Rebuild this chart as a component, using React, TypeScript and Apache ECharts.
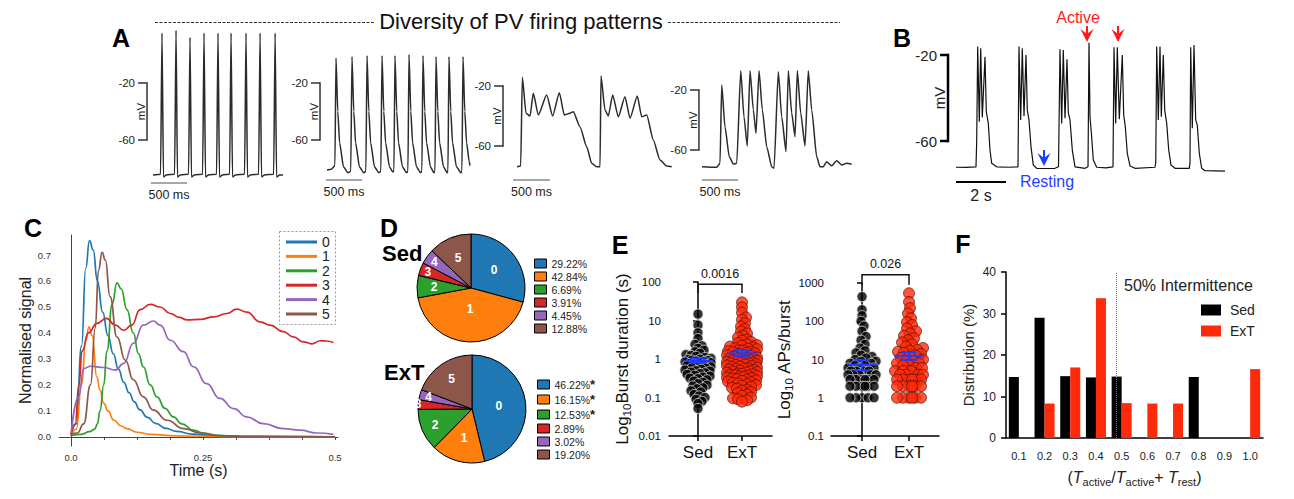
import React, { useEffect, useRef } from "react";
import * as echarts from "echarts";

const FONT = "'Liberation Sans', Arial, Helvetica, sans-serif";

// ---------- Panel A: example PV firing patterns, [time (ms), Vm (mV)] ----------
const traceFast = [
  [0, -84.5], [105, -84], [125, 15], [145, -86], [185, -84.5], [300, -84], [320, 17], [340, -86], [380, -84.5],
  [494, -84], [514, 12], [534, -86], [575, -84.5], [689, -84], [709, 15], [729, -86], [770, -84.5],
  [883, -84], [903, 15], [923, -86], [965, -84.5], [1064, -84], [1084, 15], [1104, -86], [1145, -84.5],
  [1272, -84], [1292, 15], [1312, -86], [1352, -84.5], [1467, -84], [1487, 15], [1507, -86], [1548, -84.5],
  [1676, -84], [1696, 15], [1716, -86], [1760, -84.5], [1806, -84.5],
];
const traceRegular = [
  [0, -81], [60, -80.5], [110, -78], [125, -2.5], [150, -40], [175, -62], [230, -79], [290, -83], [330, -82],
  [347, -1.5], [372, -40], [397, -62], [452, -79], [510, -83], [540, -82], [556, -0.8], [581, -40], [606, -62],
  [661, -79], [720, -83], [748, -82], [764, -0.8], [789, -40], [814, -62], [869, -79], [915, -82.5], [930, -81.5],
  [944, -0.8], [969, -40], [994, -62], [1049, -79], [1105, -83], [1124, -82], [1139, 0], [1164, -40], [1189, -62],
  [1244, -79], [1300, -83], [1318, -82], [1333, -0.8], [1358, -40], [1383, -62], [1438, -79], [1485, -83],
  [1500, -82], [1514, -1.5], [1539, -40], [1564, -62], [1619, -79], [1670, -83], [1680, -82], [1694, -1.5],
  [1719, -40], [1744, -62], [1799, -79], [1860, -83], [1874, -82], [1889, -1.5], [1914, -40], [1939, -62],
  [1975, -75], [1986, -78],
];
const tracePlateau = [
  [0, -73.8], [50, -73.3], [72, -14.2], [122, -38.2], [176, -40], [220, -24.9], [288, -39.3], [401, -26],
  [482, -40], [572, -24.5], [639, -39.3], [716, -38.2], [761, -37.1], [851, -47.1], [942, -60.5], [1009, -71.5],
  [1077, -73.8], [1122, -73.8], [1135, -13.3], [1189, -36], [1234, -40], [1293, -26], [1369, -40.5], [1459, -27.1],
  [1527, -41.5], [1626, -26.7], [1685, -40.5], [1753, -39.3], [1842, -56], [1932, -69.3], [2023, -73.3], [2091, -73.8],
];
const traceIrregular = [
  [0, -71.1], [204, -71.5], [250, -68.9], [274, -16.7], [319, -44.5], [379, -64.5], [435, -69.3], [482, -68.9],
  [538, -7.1], [583, -37.8], [629, -57.3], [667, -7.1], [713, -33.3], [750, -48.9], [792, -7.1], [838, -33.3],
  [899, -57.8], [968, -71.1], [1000, -72.2], [1060, -7.8], [1107, -37.8], [1167, -61.1], [1199, -7.1], [1246, -35.5],
  [1292, -51.1], [1324, -7.1], [1371, -35.5], [1431, -57.3], [1476, -7.1], [1524, -33.3], [1593, -64.5], [1639, -71.1],
  [1685, -71.1], [1731, -67.8], [1801, -70.5], [1871, -67.1], [1940, -70], [2010, -68.9], [2079, -69.5],
];

// ---------- Panel B: intermittent bursting, [time (s), Vm (mV)] ----------
const traceIntermittent = [
  [0, -72.2], [0.4, -72.3], [0.8, -72], [0.828, -60], [0.868, -16.1], [0.932, -51], [0.988, -16.9], [1.052, -49],
  [1.16, -20.8], [1.212, -46.4], [1.292, -51.8], [1.36, -64.2], [1.428, -70.4], [1.628, -72], [2.1, -72.2], [2.48, -72],
  [2.52, -16.1], [2.588, -50.2], [2.652, -16.9], [2.72, -48.4], [2.8, -20], [2.852, -45.6], [2.92, -50.2], [3.0, -62.7],
  [3.092, -71.2], [3.228, -72.7], [3.6, -72.8], [3.96, -72.7], [4.1, -72],
  [4.16, -17.3], [4.228, -51.8], [4.292, -17.7], [4.36, -49.4], [4.44, -22], [4.492, -46.8], [4.56, -50.2], [4.652, -64.2],
  [4.76, -72], [5.16, -72.7], [5.28, -72],
  [5.32, -14.3], [5.36, -48.7], [5.42, -57.2], [5.492, -68.8], [5.628, -72.2], [6.0, -72.5], [6.28, -72],
  [6.32, -16.4], [6.388, -51.8], [6.452, -16.4], [6.532, -49.9], [6.652, -20], [6.708, -47.9], [6.772, -53.3], [6.852, -65.7],
  [6.96, -71.6], [7.16, -72.7], [7.96, -72.2], [7.99, -70],
  [8.028, -16.1], [8.092, -50.2], [8.16, -16.1], [8.212, -48.7], [8.292, -20], [8.348, -45.6], [8.428, -51.8], [8.508, -64.2],
  [8.6, -71.2], [8.76, -72.7], [9.332, -72.7], [9.36, -70],
  [9.388, -16.4], [9.452, -54.1], [9.52, -15.3], [9.588, -50.2], [9.652, -52.6], [9.732, -65.7], [9.828, -72.7], [9.96, -73.8],
  [10.76, -74],
];

// ---------- Panel C: cluster mean waveforms, [time (s), normalised signal] ----------
const clusterNames = ["0", "1", "2", "3", "4", "5"];
const clusterColors = ["#1f77b4", "#ff7f0e", "#2ca02c", "#d62728", "#9467bd", "#8c564b"];
const wave0 = [[0, 0.01], [0.01, 0.05], [0.02, 0.35], [0.028, 0.65], [0.035, 0.755], [0.042, 0.72], [0.05, 0.6], [0.06, 0.48], [0.07, 0.39], [0.08, 0.32], [0.09, 0.26], [0.1, 0.21], [0.11, 0.17], [0.12, 0.135], [0.13, 0.105], [0.145, 0.075], [0.16, 0.052], [0.18, 0.033], [0.2, 0.021], [0.23, 0.011], [0.27, 0.005], [0.35, 0.001], [0.5, 0]];
const wave1 = [[0, 0.005], [0.01, 0.03], [0.02, 0.2], [0.028, 0.37], [0.034, 0.424], [0.04, 0.39], [0.049, 0.23], [0.055, 0.18], [0.062, 0.13], [0.07, 0.1], [0.081, 0.064], [0.095, 0.042], [0.106, 0.032], [0.125, 0.018], [0.15, 0.01], [0.2, 0.004], [0.3, 0.001], [0.5, 0]];
const wave2 = [[0, 0.005], [0.02, 0.01], [0.035, 0.02], [0.045, 0.03], [0.05, 0.05], [0.055, 0.1], [0.062, 0.2], [0.068, 0.33], [0.078, 0.51], [0.087, 0.593], [0.095, 0.57], [0.106, 0.49], [0.118, 0.4], [0.128, 0.32], [0.137, 0.27], [0.15, 0.2], [0.163, 0.154], [0.178, 0.11], [0.194, 0.077], [0.21, 0.05], [0.232, 0.026], [0.25, 0.015], [0.276, 0.006], [0.32, 0.002], [0.5, 0]];
const wave3 = [[0, 0.005], [0.008, 0.05], [0.015, 0.2], [0.021, 0.33], [0.033, 0.4], [0.049, 0.437], [0.067, 0.456], [0.084, 0.43], [0.1, 0.41], [0.115, 0.43], [0.131, 0.49], [0.15, 0.51], [0.169, 0.5], [0.188, 0.475], [0.205, 0.46], [0.22, 0.45], [0.245, 0.452], [0.27, 0.462], [0.295, 0.475], [0.314, 0.492], [0.333, 0.48], [0.358, 0.443], [0.377, 0.43], [0.402, 0.405], [0.421, 0.385], [0.44, 0.366], [0.456, 0.358], [0.472, 0.37], [0.484, 0.369], [0.497, 0.363]];
const wave4 = [[0, 0.01], [0.0145, 0.154], [0.024, 0.263], [0.037, 0.272], [0.062, 0.267], [0.084, 0.257], [0.1, 0.283], [0.118, 0.36], [0.137, 0.43], [0.156, 0.446], [0.169, 0.43], [0.188, 0.372], [0.213, 0.328], [0.232, 0.27], [0.257, 0.205], [0.282, 0.148], [0.308, 0.109], [0.333, 0.077], [0.364, 0.051], [0.402, 0.032], [0.434, 0.026], [0.465, 0.015], [0.497, 0.01]];
const wave5 = [[0, 0.01], [0.012, 0.015], [0.024, 0.05], [0.037, 0.2], [0.046, 0.42], [0.052, 0.64], [0.059, 0.71], [0.065, 0.68], [0.074, 0.54], [0.087, 0.385], [0.103, 0.295], [0.118, 0.22], [0.137, 0.154], [0.156, 0.103], [0.182, 0.064], [0.213, 0.032], [0.245, 0.015], [0.276, 0.005], [0.34, 0.001], [0.5, 0]];
const clusterWaves = [wave0, wave1, wave2, wave3, wave4, wave5];
const timeTicks = [0, 0.0625, 0.125, 0.1875, 0.25, 0.3125, 0.375, 0.4375, 0.5];
const timeLabels = { 0: "0.0", 0.25: "0.25", 0.5: "0.5" };
const signalTicks = [0, 0.1, 0.2, 0.3, 0.4, 0.5, 0.6, 0.7];

// ---------- Panel D: cluster proportions (%) ----------
const sedPct = [29.22, 42.84, 6.69, 3.91, 4.45, 12.88];
const extPct = [46.22, 16.15, 12.53, 2.89, 3.02, 19.2];
const extSignificant = [true, true, true, false, false, false];
// distance of each slice number from the pie centre, px
const sedLabelRadius = [29, 21, 37, 46, 45, 33];
const extLabelRadius = [27, 30, 40, 54, 45, 36];

// ---------- Panel E: burst statistics ----------
const groups = ["Sed", "ExT"];
const sedDuration = [14.7, 7.6, 4.8, 3.4, 2.4, 2.2, 1.9, 1.7, 1.55, 1.42, 1.3, 1.24, 1.18, 1.1, 1.04, 1.0, 0.97, 0.94, 0.92, 0.89, 0.86, 0.84, 0.81, 0.79, 0.77, 0.74, 0.72, 0.7, 0.67, 0.65, 0.63, 0.6, 0.58, 0.55, 0.52, 0.5, 0.49, 0.46, 0.44, 0.42, 0.4, 0.38, 0.36, 0.34, 0.32, 0.31, 0.29, 0.27, 0.25, 0.23, 0.21, 0.2, 0.18, 0.17, 0.15, 0.14, 0.12, 0.11, 0.1, 0.09, 0.08, 0.07, 0.052];
const extDuration = [29.6, 22, 16, 12, 10.5, 8.5, 7, 6, 5.2, 4.6, 4.0, 3.6, 3.2, 3.0, 2.8, 2.6, 2.4, 2.3, 2.2, 2.1, 2.0, 1.9, 1.85, 1.8, 1.7, 1.65, 1.6, 1.55, 1.5, 1.45, 1.4, 1.35, 1.3, 1.25, 1.2, 1.15, 1.1, 1.08, 1.05, 1.02, 1.0, 0.98, 0.95, 0.92, 0.9, 0.88, 0.86, 0.84, 0.82, 0.8, 0.78, 0.76, 0.74, 0.72, 0.7, 0.68, 0.66, 0.64, 0.62, 0.6, 0.58, 0.56, 0.55, 0.53, 0.52, 0.5, 0.48, 0.47, 0.46, 0.45, 0.44, 0.42, 0.41, 0.4, 0.39, 0.38, 0.37, 0.36, 0.35, 0.34, 0.33, 0.32, 0.31, 0.3, 0.29, 0.28, 0.27, 0.26, 0.25, 0.24, 0.23, 0.22, 0.21, 0.2, 0.19, 0.18, 0.17, 0.16, 0.15, 0.14, 0.13, 0.12, 0.11, 0.1, 0.095, 0.09, 0.085, 0.078];
const sedAPs = [440, 200, 140, 100, 75, 55, 40, 32, 25, 20, 17, 15, 13, 12, 11, 10, 9, 9, 8, 8, 7, 7, 6, 6, 6, 5, 5, 5, 5, 4, 4, 4, 4, 4, 3, 3, 3, 3, 3, 3, 2, 2, 2, 2, 2, 2, 1, 1, 1, 1, 1];
const extAPs = [540, 320, 220, 160, 120, 95, 80, 65, 55, 48, 42, 36, 32, 28, 25, 22, 20, 18, 17, 16, 15, 14, 13, 12, 11, 10, 9, 9, 8, 8, 7, 7, 6, 6, 5, 5, 5, 4, 4, 4, 4, 3, 3, 3, 3, 3, 3, 2, 2, 2, 2, 2, 2, 1, 1, 1, 1, 1, 1];
// mean, lower and upper SEM limits
const durationStats = [[0.9, 0.8, 1.03], [1.4, 1.17, 1.68]];
const apsStats = [[7.3, 5.2, 9.8], [12.5, 9.8, 15.6]];
const durationP = "0.0016";
const apsP = "0.026";
const durationTicks = [0.01, 0.1, 1, 10, 100];
const apsTicks = [0.1, 1, 10, 100, 1000];

// ---------- Panel F: intermittence distribution (%) ----------
const intermittenceBins = ["0.1", "0.2", "0.3", "0.4", "0.5", "0.6", "0.7", "0.8", "0.9", "1.0"];
const sedDistribution = [14.7, 29, 14.9, 14.6, 14.8, 0, 0, 14.7, 0, 0];
const extDistribution = [0, 8.3, 17, 33.7, 8.4, 8.3, 8.3, 0, 0, 16.6];

// Map a pixel box onto data ranges from one anchor point and px-per-unit scales.
function frame(box, px0, x0, sx, py0, y0, sy) {
  return {
    grid: { left: box.l, top: box.t, width: box.r - box.l, height: box.b - box.t },
    xMin: x0 + (box.l - px0) / sx,
    xMax: x0 + (box.r - px0) / sx,
    yMax: y0 + (py0 - box.t) / sy,
    yMin: y0 - (box.b - py0) / sy,
  };
}

const traceFrames = [
  frame({ l: 110, t: 20, r: 292, b: 205 }, 153, 0, 0.072, 83, -20, 1.425),
  frame({ l: 285, t: 20, r: 476, b: 205 }, 327, 0, 0.072, 83, -20, 1.425),
  frame({ l: 470, t: 20, r: 680, b: 205 }, 517, 0, 0.074, 86, -20, 1.5),
  frame({ l: 660, t: 20, r: 860, b: 205 }, 702, 0, 0.072, 90, -20, 1.5),
  frame({ l: 900, t: 20, r: 1240, b: 205 }, 956, 0, 25, 55, -20, 2.15),
];
const traces = [traceFast, traceRegular, tracePlateau, traceIrregular, traceIntermittent];
const small = { labelSize: 11.5, barSize: 12.5, color: "#333", lw: 1.5, tick: 9, barColor: "#8a8a8a", barLw: 1.5, mvGap: 6 };
const big = { labelSize: 15, barSize: 16, color: "#000", lw: 2.5, tick: 8, barColor: "#000", barLw: 2, mvGap: 9 };
const scaleBars = [
  { ...small, bracketX: -83, barX0: -28, barLen: 500, barY: -90.2, barLabel: "500 ms" },
  { ...small, bracketX: -97, barX0: -14, barLen: 500, barY: -88.1, barLabel: "500 ms" },
  { ...small, bracketX: -189, barX0: -54, barLen: 500, barY: -82.7, barLabel: "500 ms" },
  { ...small, bracketX: -42, barX0: 0, barLen: 500, barY: -80, barLabel: "500 ms" },
  { ...big, bracketX: -0.32, barX0: 0, barLen: 2, barY: -79.1, barLabel: "2 s" },
];

function scaleBarSeries(idx, cfg) {
  return {
    type: "custom",
    xAxisIndex: idx,
    yAxisIndex: idx,
    silent: true,
    clip: false,
    data: [[cfg.bracketX, -20]],
    renderItem: (params, api) => {
      const top = api.coord([cfg.bracketX, -20]);
      const bot = api.coord([cfg.bracketX, -60]);
      const b0 = api.coord([cfg.barX0, cfg.barY]);
      const b1 = api.coord([cfg.barX0 + cfg.barLen, cfg.barY]);
      const lineStyle = { stroke: cfg.color, lineWidth: cfg.lw };
      const lf = `${cfg.labelSize}px ${FONT}`;
      return {
        type: "group",
        children: [
          { type: "line", shape: { x1: top[0], y1: top[1] - cfg.lw / 2, x2: bot[0], y2: bot[1] + cfg.lw / 2 }, style: lineStyle },
          { type: "line", shape: { x1: top[0] - cfg.tick, y1: top[1], x2: top[0], y2: top[1] }, style: lineStyle },
          { type: "line", shape: { x1: bot[0] - cfg.tick, y1: bot[1], x2: bot[0], y2: bot[1] }, style: lineStyle },
          { type: "text", x: top[0] - cfg.tick - 3, y: top[1], style: { text: "-20", align: "right", verticalAlign: "middle", font: lf, fill: "#222" } },
          { type: "text", x: bot[0] - cfg.tick - 3, y: bot[1], style: { text: "-60", align: "right", verticalAlign: "middle", font: lf, fill: "#222" } },
          { type: "text", x: top[0] - cfg.mvGap, y: (top[1] + bot[1]) / 2, rotation: Math.PI / 2, style: { text: "mV", align: "center", verticalAlign: "middle", font: lf, fill: "#222" } },
          { type: "line", shape: { x1: b0[0], y1: b0[1], x2: b1[0], y2: b1[1] }, style: { stroke: cfg.barColor, lineWidth: cfg.barLw } },
          { type: "text", x: (b0[0] + b1[0]) / 2, y: b0[1] + 5, style: { text: cfg.barLabel, align: "center", verticalAlign: "top", font: `${cfg.barSize}px ${FONT}`, fill: "#222" } },
        ],
      };
    },
  };
}

// Beeswarm placement: each point is nudged sideways (in pixels) until it clears its neighbours.
function swarm(values, center, pxPerDecade, pxPerUnit, minD, maxHalf) {
  const order = values.map((_, i) => i).sort((a, b) => values[a] - values[b]);
  const placed = [];
  const out = new Array(values.length);
  for (const i of order) {
    const y = Math.log10(values[i]) * pxPerDecade;
    let best = 0;
    let bestScore = -Infinity;
    for (let k = 0; k <= 2 * maxHalf; k++) {
      const dx = k === 0 ? 0 : k % 2 ? Math.ceil(k / 2) : -k / 2;
      let nearest = Infinity;
      for (const p of placed) {
        if (Math.abs(p.y - y) >= minD) continue;
        nearest = Math.min(nearest, Math.hypot(p.x - dx, p.y - y));
      }
      if (nearest >= minD) { best = dx; bestScore = Infinity; break; }
      if (nearest > bestScore) { bestScore = nearest; best = dx; }
    }
    placed.push({ x: best, y });
    out[i] = [center + best / pxPerUnit, values[i]];
  }
  return out;
}

function meanSemSeries(axis, stats, pxHalf, capHalf) {
  return {
    type: "custom",
    xAxisIndex: axis,
    yAxisIndex: axis,
    silent: true,
    z: 5,
    clip: false,
    data: stats.map((s, i) => [i, s[0], s[1], s[2]]),
    renderItem: (params, api) => {
      const m = api.coord([api.value(0), api.value(1)]);
      const lo = api.coord([api.value(0), api.value(2)]);
      const hi = api.coord([api.value(0), api.value(3)]);
      const st = { stroke: "#1d3cff", lineWidth: 2 };
      return {
        type: "group",
        children: [
          { type: "line", shape: { x1: m[0] - pxHalf, y1: m[1], x2: m[0] + pxHalf, y2: m[1] }, style: st },
          { type: "line", shape: { x1: lo[0], y1: lo[1], x2: hi[0], y2: hi[1] }, style: st },
          { type: "line", shape: { x1: lo[0] - capHalf, y1: lo[1], x2: lo[0] + capHalf, y2: lo[1] }, style: st },
          { type: "line", shape: { x1: hi[0] - capHalf, y1: hi[1], x2: hi[0] + capHalf, y2: hi[1] }, style: st },
        ],
      };
    },
  };
}

function bracketSeries(axis, top, bottom, label) {
  return {
    type: "custom",
    xAxisIndex: axis,
    yAxisIndex: axis,
    silent: true,
    clip: false,
    data: [[0, 1, top, bottom]],
    renderItem: (params, api) => {
      const a = api.coord([0, bottom]);
      const b = api.coord([0, top]);
      const c = api.coord([1, top]);
      const d = api.coord([1, bottom]);
      return {
        type: "group",
        children: [
          { type: "polyline", shape: { points: [a, b, c, d] }, style: { stroke: "#111", lineWidth: 1.5, fill: null } },
          { type: "text", x: (b[0] + c[0]) / 2, y: b[1] - 4, style: { text: label, align: "center", verticalAlign: "bottom", font: `12.5px ${FONT}`, fill: "#111" } },
        ],
      };
    },
  };
}

function arrowHead(cx, tipY, color) {
  return {
    type: "group",
    children: [
      { type: "line", shape: { x1: cx, y1: tipY - 16, x2: cx, y2: tipY - 7 }, style: { stroke: color, lineWidth: 2 } },
      { type: "polygon", shape: { points: [[cx, tipY], [cx + 6.5, tipY - 13], [cx, tipY - 8], [cx - 6.5, tipY - 13]] }, style: { fill: color } },
    ],
  };
}

function letter(text, x, y) {
  return { type: "text", x, y, style: { text, align: "center", verticalAlign: "middle", font: `bold 25px ${FONT}`, fill: "#000" } };
}

// Place each slice number along the slice's mid-angle at its own radius.
function pieLabelLayout(center, pct, radius) {
  return (params) => {
    const i = params.dataIndex;
    const before = pct.slice(0, i).reduce((s, v) => s + v, 0);
    const total = pct.reduce((s, v) => s + v, 0);
    const ang = Math.PI / 2 - ((before + pct[i] / 2) / total) * 2 * Math.PI;
    return {
      x: center[0] + radius[i] * Math.cos(ang),
      y: center[1] - radius[i] * Math.sin(ang),
      align: "center",
      verticalAlign: "middle",
      hideOverlap: false,
    };
  };
}

const axisBlack = { lineStyle: { color: "#000", width: 1.5 } };

function buildOption() {
  const grids = [
    ...traceFrames.map((f) => f.grid),
    { left: 59, top: 235, width: 279, height: 211 },
    { left: 669, top: 282, width: 103, height: 154 },
    { left: 831, top: 283, width: 108, height: 153 },
    { left: 1006, top: 272, width: 257, height: 166 },
  ];

  const xAxes = [
    ...traceFrames.map((f, i) => ({ type: "value", gridIndex: i, min: f.xMin, max: f.xMax, show: false })),
    {
      type: "value", gridIndex: 5, min: -0.0227, max: 0.5057, splitLine: { show: false },
      axisLine: { lineStyle: { color: "#444", width: 1 } },
      axisTick: { customValues: timeTicks, length: 3, lineStyle: { color: "#444" } },
      axisLabel: { customValues: [0, 0.25, 0.5], formatter: (v) => timeLabels[v], fontSize: 9.5, color: "#333", margin: 6, fontFamily: FONT },
      name: "Time (s)", nameLocation: "middle", nameGap: 16,
      nameTextStyle: { fontSize: 16, color: "#222", fontFamily: FONT },
    },
    {
      type: "value", gridIndex: 6, min: -0.659, max: 1.682, splitLine: { show: false }, axisLine: axisBlack,
      axisTick: { customValues: [0, 1], length: 5, lineStyle: { width: 1.5, color: "#000" } },
      axisLabel: { customValues: [0, 1], formatter: (v) => groups[v], fontSize: 17, color: "#111", margin: 8, fontFamily: FONT },
    },
    {
      type: "value", gridIndex: 7, min: -0.66, max: 1.638, splitLine: { show: false }, axisLine: axisBlack,
      axisTick: { customValues: [0, 1], length: 5, lineStyle: { width: 1.5, color: "#000" } },
      axisLabel: { customValues: [0, 1], formatter: (v) => groups[v], fontSize: 17, color: "#111", margin: 8, fontFamily: FONT },
    },
    {
      type: "category", gridIndex: 8, data: intermittenceBins, axisLine: axisBlack, axisTick: { show: false },
      axisLabel: { fontSize: 11, color: "#222", margin: 12, fontFamily: FONT },
      name: "({t|T}{s|active}/{t|T}{s|active}+ {t|T}{s|rest})", nameLocation: "middle", nameGap: 29,
      nameTextStyle: {
        fontSize: 16, color: "#222", fontFamily: FONT,
        rich: {
          t: { fontSize: 16, fontStyle: "italic", color: "#222", fontFamily: FONT },
          s: { fontSize: 11, color: "#222", fontFamily: FONT, padding: [9, 0, 0, 0] },
        },
      },
    },
  ];

  const logRich = {
    a: { fontSize: 17, color: "#111", fontFamily: FONT },
    s: { fontSize: 11.5, color: "#111", fontFamily: FONT, padding: [9, 0, 0, 0] },
  };

  const yAxes = [
    ...traceFrames.map((f, i) => ({ type: "value", gridIndex: i, min: f.yMin, max: f.yMax, show: false })),
    {
      type: "value", gridIndex: 5, min: -0.035, max: 0.777, splitLine: { show: false },
      axisLine: { show: true, lineStyle: { color: "#444", width: 1 } }, axisTick: { show: false },
      axisLabel: { customValues: signalTicks, formatter: (v) => v.toFixed(1), fontSize: 9.5, color: "#333", margin: 8, fontFamily: FONT },
      name: "Normalised signal", nameLocation: "middle", nameGap: 19,
      nameTextStyle: { fontSize: 16, color: "#222", fontFamily: FONT },
    },
    {
      type: "log", logBase: 10, gridIndex: 6, min: 0.01, max: 100, splitLine: { show: false },
      axisLine: { show: true, ...axisBlack }, axisTick: { show: true, customValues: durationTicks, length: 5, lineStyle: { width: 1.5, color: "#000" } },
      axisLabel: { customValues: durationTicks, formatter: (v) => String(v), fontSize: 11.5, color: "#111", margin: 8, fontFamily: FONT },
      name: "{a|Log}{s|10}{a|Burst duration (s)}", nameLocation: "middle", nameGap: 36,
      nameTextStyle: { fontSize: 17, color: "#111", fontFamily: FONT, rich: logRich },
    },
    {
      type: "log", logBase: 10, gridIndex: 7, min: 0.1, max: 1000, splitLine: { show: false },
      axisLine: { show: true, ...axisBlack }, axisTick: { show: true, customValues: apsTicks, length: 5, lineStyle: { width: 1.5, color: "#000" } },
      axisLabel: { customValues: apsTicks, formatter: (v) => String(v), fontSize: 11.5, color: "#111", margin: 7, fontFamily: FONT },
      name: "{a|Log}{s|10}{a| APs/burst}", nameLocation: "middle", nameGap: 35,
      nameTextStyle: { fontSize: 17, color: "#111", fontFamily: FONT, rich: logRich },
    },
    {
      type: "value", gridIndex: 8, min: 0, max: 40, interval: 10, splitLine: { show: false },
      axisLine: { show: true, ...axisBlack }, axisTick: { show: true, length: 5, lineStyle: { width: 1.5, color: "#000" } },
      axisLabel: { fontSize: 12, color: "#222", margin: 10, fontFamily: FONT },
      name: "Distribution (%)", nameLocation: "middle", nameGap: 30,
      nameTextStyle: { fontSize: 15, color: "#222", fontFamily: FONT },
    },
  ];

  const series = [];
  traces.forEach((d, i) => {
    series.push({
      type: "line", xAxisIndex: i, yAxisIndex: i, data: d, showSymbol: false, silent: true,
      smooth: i === 4 ? false : 0.2, smoothMonotone: "x",
      lineStyle: { color: i === 4 ? "#111" : "#2b2b2b", width: i === 4 ? 1.2 : 1.5 },
    });
    series.push(scaleBarSeries(i, scaleBars[i]));
  });

  clusterWaves.forEach((d, i) => {
    series.push({
      name: clusterNames[i], type: "line", xAxisIndex: 5, yAxisIndex: 5, data: d, showSymbol: false,
      smooth: 0.5, smoothMonotone: "x", silent: true,
      itemStyle: { color: clusterColors[i] }, lineStyle: { color: clusterColors[i], width: 1.7 },
    });
  });

  const pieBase = {
    type: "pie", radius: 54, startAngle: 90, clockwise: true, silent: true,
    label: { show: true, position: "inside", formatter: "{b}", color: "#fff", fontWeight: "bold", fontSize: 12, fontFamily: FONT },
    labelLine: { show: false },
    itemStyle: { borderColor: "#000", borderWidth: 1 },
    emphasis: { disabled: true },
  };
  const sedCenter = [471, 288];
  const extCenter = [472, 409];
  series.push({
    ...pieBase, center: sedCenter, labelLayout: pieLabelLayout(sedCenter, sedPct, sedLabelRadius),
    data: clusterNames.map((n, i) => ({ name: n, value: sedPct[i], itemStyle: { color: clusterColors[i] } })),
  });
  series.push({
    ...pieBase, center: extCenter, labelLayout: pieLabelLayout(extCenter, extPct, extLabelRadius),
    data: clusterNames.map((n, i) => ({ name: n, value: extPct[i], itemStyle: { color: clusterColors[i] } })),
  });

  const sedDot = { color: "#000", borderColor: "#d8d8d8", borderWidth: 1 };
  const extDot = { color: "#ff2a0a", borderColor: "#4a0800", borderWidth: 0.8 };
  series.push({ name: "Sed duration", type: "scatter", xAxisIndex: 6, yAxisIndex: 6, symbolSize: 10, itemStyle: sedDot, silent: true, data: swarm(sedDuration, 0, 38.5, 44, 4.5, 13) });
  series.push({ name: "ExT duration", type: "scatter", xAxisIndex: 6, yAxisIndex: 6, symbolSize: 11, itemStyle: extDot, silent: true, data: swarm(extDuration, 1, 38.5, 44, 4.5, 15) });
  series.push(meanSemSeries(6, durationStats, 15, 8));
  series.push(bracketSeries(6, 88, 52, durationP));
  series.push({ name: "Sed APs", type: "scatter", xAxisIndex: 7, yAxisIndex: 7, symbolSize: 10, itemStyle: sedDot, silent: true, data: swarm(sedAPs, 0, 38.25, 47, 5.5, 14) });
  series.push({ name: "ExT APs", type: "scatter", xAxisIndex: 7, yAxisIndex: 7, symbolSize: 11, itemStyle: extDot, silent: true, data: swarm(extAPs, 1, 38.25, 47, 5.5, 14) });
  series.push(meanSemSeries(7, apsStats, 15, 8));
  series.push(bracketSeries(7, 1640, 900, apsP));

  series.push({
    name: "Sed", type: "bar", xAxisIndex: 8, yAxisIndex: 8, data: sedDistribution, barGap: 0, barCategoryGap: "22%",
    itemStyle: { color: "#000" }, silent: true,
    markLine: {
      symbol: "none", silent: true, label: { show: false },
      lineStyle: { type: "dotted", color: "#777", width: 1 },
      data: [[{ xAxis: "0.5", yAxis: 0 }, { xAxis: "0.5", yAxis: 40 }]],
    },
  });
  series.push({ name: "ExT", type: "bar", xAxisIndex: 8, yAxisIndex: 8, data: extDistribution, barGap: 0, barCategoryGap: "22%", itemStyle: { color: "#ff2a0a" }, silent: true });

  const legends = [
    {
      data: clusterNames, orient: "vertical", left: 286, top: 235, padding: 0, itemWidth: 31, itemHeight: 3, itemGap: 0.4,
      icon: "path://M0 0H31V3H0Z", selectedMode: false,
      textStyle: { fontSize: 14, lineHeight: 14, color: "#222", fontFamily: FONT },
    },
    {
      data: clusterNames, orient: "vertical", left: 534, top: 258, padding: 0, itemWidth: 12, itemHeight: 9, itemGap: 2,
      icon: "rect", selectedMode: false, itemStyle: { borderColor: "#000", borderWidth: 1 },
      formatter: (n) => sedPct[Number(n)].toFixed(2) + "%",
      textStyle: { fontSize: 10.5, lineHeight: 9, color: "#222", fontFamily: FONT },
    },
    {
      data: clusterNames, orient: "vertical", left: 537, top: 378, padding: 0, itemWidth: 12, itemHeight: 9, itemGap: 2,
      icon: "rect", selectedMode: false, itemStyle: { borderColor: "#000", borderWidth: 1 },
      formatter: (n) => extPct[Number(n)].toFixed(2) + "%" + (extSignificant[Number(n)] ? "{st|*}" : ""),
      textStyle: { fontSize: 10.5, lineHeight: 9, color: "#222", fontFamily: FONT, rich: { st: { fontSize: 13, fontWeight: "bold", color: "#222", fontFamily: FONT } } },
    },
    {
      data: ["Sed", "ExT"], orient: "vertical", left: 1201, top: 303, padding: 0, itemWidth: 20, itemHeight: 11, itemGap: 7,
      icon: "rect", selectedMode: false,
      textStyle: { fontSize: 14, color: "#222", fontFamily: FONT, padding: [0, 0, 0, 4] },
    },
  ];

  const graphic = [
    letter("A", 121, 38),
    letter("B", 902, 38),
    letter("C", 33, 228),
    letter("D", 389, 228),
    letter("E", 620, 245),
    letter("F", 963, 244),
    { type: "line", shape: { x1: 155, y1: 22.5, x2: 375, y2: 22.5 }, style: { stroke: "#333", lineWidth: 1, lineDash: [3, 1.5] } },
    { type: "line", shape: { x1: 668, y1: 22.5, x2: 840, y2: 22.5 }, style: { stroke: "#333", lineWidth: 1, lineDash: [3, 1.5] } },
    { type: "text", x: 521, y: 21, style: { text: "Diversity of PV firing patterns", align: "center", verticalAlign: "middle", font: `22px ${FONT}`, fill: "#111" } },
    { type: "text", x: 1078, y: 17, style: { text: "Active", align: "center", verticalAlign: "middle", font: `16px ${FONT}`, fill: "#ff1a1a" } },
    arrowHead(1087, 42, "#ff1a1a"),
    arrowHead(1118, 42, "#ff1a1a"),
    arrowHead(1044, 166, "#1f3fff"),
    { type: "text", x: 1047, y: 181, style: { text: "Resting", align: "center", verticalAlign: "middle", font: `16px ${FONT}`, fill: "#1f3fff" } },
    { type: "rect", shape: { x: 279.5, y: 231.5, width: 56, height: 93 }, style: { fill: "none", stroke: "#999", lineWidth: 1, lineDash: [2, 2] } },
    { type: "text", x: 382, y: 253, style: { text: "Sed", align: "left", verticalAlign: "middle", font: `bold 22px ${FONT}`, fill: "#000" } },
    { type: "text", x: 384, y: 372, style: { text: "ExT", align: "left", verticalAlign: "middle", font: `bold 22px ${FONT}`, fill: "#000" } },
    { type: "text", x: 1124, y: 285, style: { text: "50% Intermittence", align: "left", verticalAlign: "middle", font: `16px ${FONT}`, fill: "#222" } },
  ];

  return {
    animation: false,
    backgroundColor: "#fff",
    textStyle: { fontFamily: FONT },
    grid: grids,
    xAxis: xAxes,
    yAxis: yAxes,
    legend: legends,
    series,
    graphic,
  };
}

export default function App() {
  const ref = useRef(null);
  useEffect(() => {
    document.body.style.margin = "0";
    const chart = echarts.init(ref.current, null, { renderer: "svg" });
    chart.setOption(buildOption());
    return () => chart.dispose();
  }, []);
  return <div ref={ref} style={{ width: 1294, height: 499 }} />;
}
